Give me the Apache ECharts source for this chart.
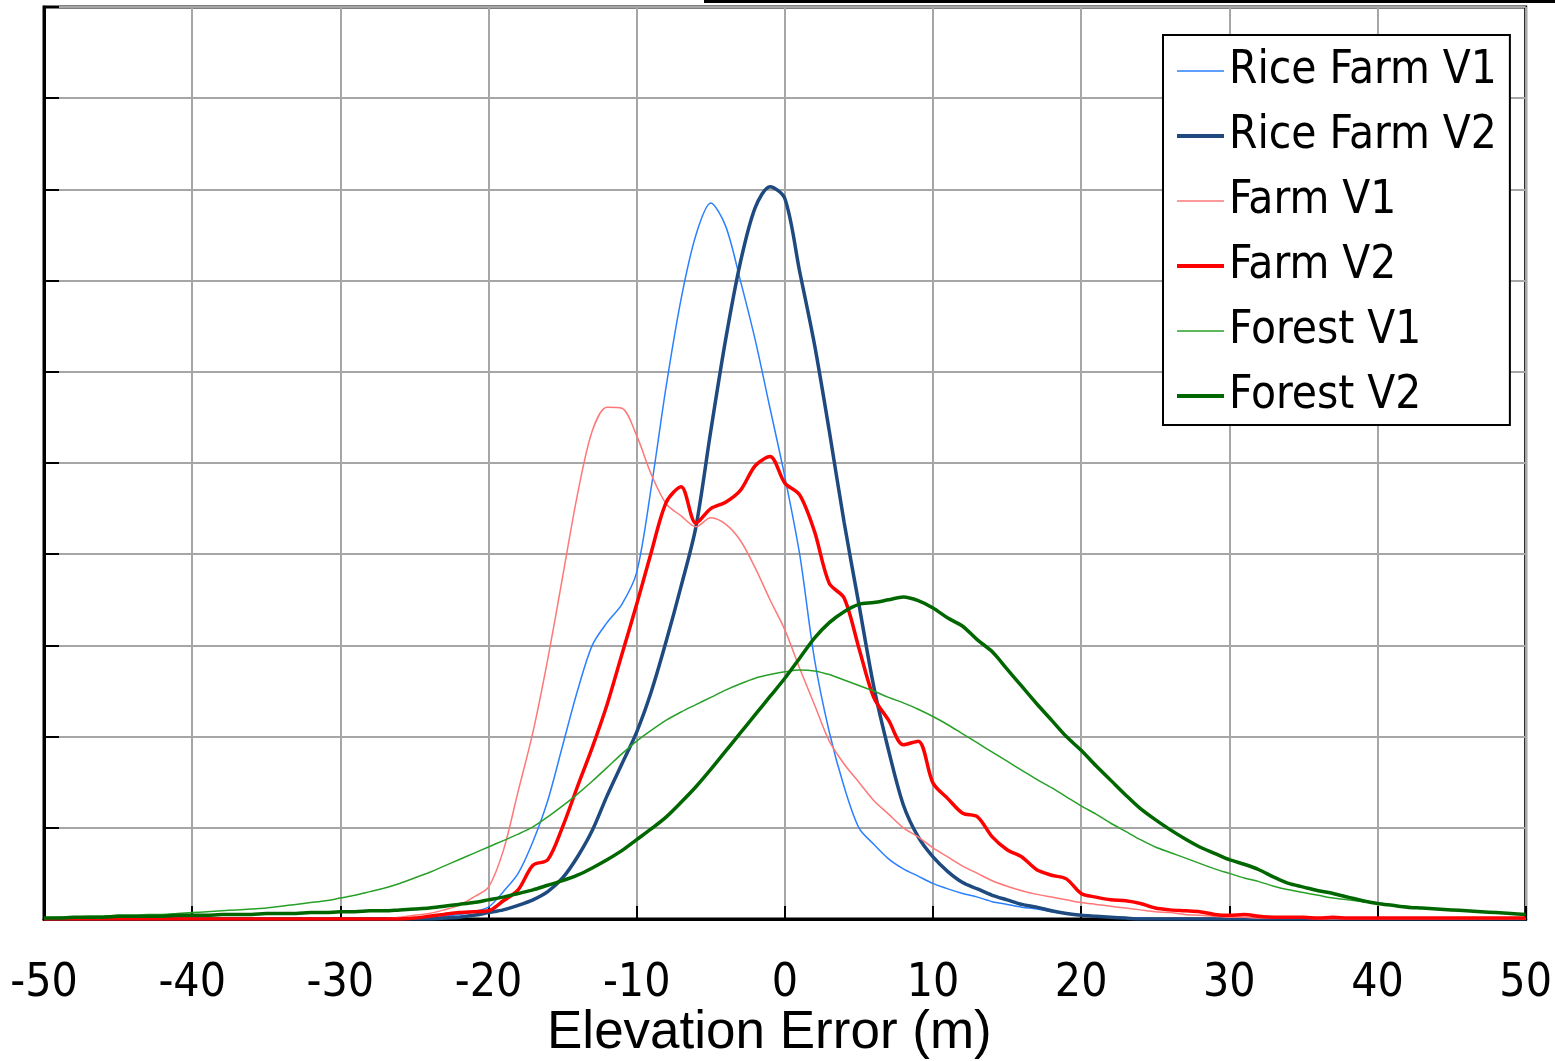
<!DOCTYPE html>
<html>
<head>
    <meta http-equiv="Content-Type" content="text/html; charset=utf-8" />
    <title>Elevation Error</title>
    <script src="https://cdn.jsdelivr.net/npm/echarts@6/dist/echarts.min.js"></script>
</head>
<body style="margin:0;padding:0;background:#fff;">
    <div id="main" style="width:1555px;height:1061px;"></div>
    <script type="text/javascript">
        // x positions (m), one sample per metre
        var xs = [-50,-49,-48,-47,-46,-45,-44,-43,-42,-41,-40,-39,-38,-37,-36,-35,-34,-33,-32,-31,
                  -30,-29,-28,-27,-26,-25,-24,-23,-22,-21,-20,-19,-18,-17,-16,-15,-14,-13,-12,-11,
                  -10,-9,-8,-7,-6,-5,-4,-3,-2,-1,0,1,2,3,4,5,6,7,8,9,
                  10,11,12,13,14,15,16,17,18,19,20,21,22,23,24,25,26,27,28,29,
                  30,31,32,33,34,35,36,37,38,39,40,41,42,43,44,45,46,47,48,49,50];
        var xTicks = [-50,-40,-30,-20,-10,0,10,20,30,40,50];

        // curve heights (read in grid units, 0..10)
        var riceFarmV1 = [0,0,0,0,0,0,0,0,0,0, 0,0,0,0,0,0,0,0,0,0,
                          0,0,0,0,0,0.01,0.01,0.03,0.05,0.08, 0.13,0.3,0.5,0.85,1.3,1.9,2.5,3.0,3.25,3.45,
                          3.8,4.75,5.85,6.8,7.5,7.85,7.6,7.0,6.35,5.6, 4.85,4.0,2.85,2.05,1.45,1.0,0.82,0.66,0.55,0.47,
                          0.39,0.33,0.28,0.24,0.19,0.16,0.13,0.11,0.08,0.06, 0.04,0.03,0.02,0.01,0.01,0,0,0,0,0,
                          0,0,0,0,0,0,0,0,0,0, 0,0,0,0,0,0,0,0,0,0,0];
        var riceFarmV2 = [0,0,0,0,0,0,0,0,0,0, 0,0,0,0,0,0,0,0,0,0,
                          0,0,0,0,0,0,0,0.01,0.02,0.04, 0.07,0.1,0.15,0.21,0.3,0.45,0.68,0.97,1.35,1.7,
                          2.05,2.5,3.05,3.65,4.3,5.35,6.35,7.2,7.8,8.03, 7.9,7.1,6.3,5.35,4.35,3.45,2.55,1.85,1.25,0.9,
                          0.68,0.52,0.4,0.33,0.26,0.21,0.16,0.13,0.09,0.06, 0.04,0.03,0.02,0.01,0,0,0,0,0,0,
                          0,0,0,0,0,0,0,0,0,0, 0,0,0,0,0,0,0,0,0,0,0];
        var farmV1 = [0,0,0,0,0,0,0,0,0,0, 0,0,0,0,0,0,0,0,0,0,
                      0,0,0,0,0.02,0.04,0.06,0.1,0.15,0.24, 0.35,0.75,1.4,2.05,2.85,3.75,4.65,5.35,5.61,5.6,
                      5.3,4.87,4.55,4.42,4.3,4.4,4.33,4.15,3.85,3.5, 3.17,2.75,2.35,1.95,1.7,1.5,1.3,1.15,1.0,0.9,
                      0.78,0.68,0.58,0.5,0.42,0.36,0.31,0.27,0.24,0.21, 0.18,0.16,0.14,0.12,0.1,0.08,0.07,0.05,0.04,0.03,
                      0.02,0.02,0.01,0.01,0.01,0.01,0,0,0,0, 0,0,0,0,0,0,0,0,0,0,0];
        var farmV2 = [0,0,0,0,0,0,0,0,0,0, 0,0,0,0,0,0,0,0,0,0,
                      0,0,0,0,0,0.01,0.03,0.05,0.07,0.08, 0.09,0.2,0.32,0.59,0.65,1.01,1.45,1.88,2.35,2.9,
                      3.45,4.03,4.57,4.74,4.34,4.5,4.57,4.7,4.97,5.07, 4.78,4.65,4.25,3.68,3.52,2.97,2.43,2.18,1.91,1.95,
                      1.49,1.32,1.16,1.12,0.9,0.76,0.68,0.54,0.48,0.44, 0.28,0.24,0.21,0.2,0.17,0.12,0.1,0.09,0.08,0.05,
                      0.04,0.05,0.03,0.02,0.02,0.02,0.01,0.02,0.01,0.01, 0.01,0.01,0.01,0.01,0.01,0.01,0.01,0.01,0.01,0.01,0.01];
        var forestV1 = [0.01,0.02,0.02,0.03,0.03,0.04,0.04,0.05,0.05,0.06, 0.07,0.08,0.09,0.1,0.11,0.12,0.14,0.16,0.18,0.2,
                        0.23,0.26,0.3,0.34,0.39,0.45,0.51,0.58,0.65,0.72, 0.79,0.86,0.93,1.01,1.12,1.24,1.37,1.51,1.66,1.81,
                        1.95,2.07,2.18,2.27,2.35,2.43,2.51,2.58,2.64,2.68, 2.71,2.73,2.72,2.68,2.62,2.56,2.5,2.43,2.37,2.3,
                        2.22,2.13,2.03,1.93,1.83,1.73,1.63,1.53,1.44,1.34, 1.24,1.15,1.05,0.96,0.87,0.79,0.73,0.67,0.61,0.55,
                        0.5,0.45,0.41,0.36,0.32,0.29,0.26,0.23,0.21,0.19, 0.17,0.15,0.14,0.12,0.11,0.1,0.09,0.08,0.07,0.06,0.05];
        var forestV2 = [0.01,0.01,0.02,0.02,0.02,0.03,0.03,0.03,0.03,0.04, 0.04,0.04,0.05,0.05,0.05,0.06,0.06,0.06,0.07,0.07,
                        0.08,0.08,0.09,0.09,0.1,0.11,0.12,0.14,0.16,0.18, 0.21,0.24,0.28,0.32,0.37,0.42,0.48,0.56,0.65,0.75,
                        0.87,0.99,1.12,1.28,1.45,1.64,1.84,2.04,2.24,2.44, 2.64,2.86,3.08,3.25,3.37,3.45,3.47,3.5,3.53,3.49,
                        3.41,3.3,3.21,3.06,2.93,2.74,2.55,2.36,2.18,2.0, 1.85,1.68,1.52,1.36,1.21,1.09,0.98,0.88,0.79,0.72,
                        0.65,0.6,0.54,0.46,0.39,0.35,0.31,0.28,0.24,0.2, 0.17,0.15,0.13,0.12,0.11,0.1,0.09,0.08,0.07,0.06,0.05];

        var seriesNames = ['Rice Farm V1', 'Rice Farm V2', 'Farm V1', 'Farm V2', 'Forest V1', 'Forest V2'];
        var seriesValues = [riceFarmV1, riceFarmV2, farmV1, farmV2, forestV1, forestV2];
        var seriesColors = ['#2a80ff', '#1f4a80', '#ff7878', '#ff0000', '#28a028', '#006600'];
        var seriesWidths = [1.5, 3.5, 1.5, 3.5, 1.5, 3.5];

        var labelFont = "'DejaVu Sans Condensed', 'Liberation Sans Narrow', 'DejaVu Sans', sans-serif";

        function pairs(ys) {
            var out = [];
            for (var i = 0; i < xs.length; i++) out.push([xs[i], ys[i]]);
            return out;
        }

        var series = [];
        var legendData = [];
        for (var s = 0; s < seriesNames.length; s++) {
            series.push({
                name: seriesNames[s],
                type: 'line',
                data: pairs(seriesValues[s]),
                symbol: 'none',
                smooth: 0.3,
                silent: true,
                animation: false,
                lineStyle: { color: seriesColors[s], width: seriesWidths[s] },
                itemStyle: { color: seriesColors[s] }
            });
            legendData.push({
                name: seriesNames[s],
                lineStyle: { color: seriesColors[s], width: seriesWidths[s] > 2 ? 4 : 1.5 }
            });
        }

        var chart = echarts.init(document.getElementById('main'));
        var option = {
            backgroundColor: '#ffffff',
            animation: false,
            grid: {
                left: 44, right: 28, top: 7, bottom: 142,
                show: true,
                borderColor: '#000000',
                borderWidth: 3,
                backgroundColor: 'transparent'
            },
            xAxis: {
                type: 'value',
                min: -50, max: 50, interval: 10,
                axisLine: { show: true, onZero: false, lineStyle: { color: '#000', width: 3 } },
                axisTick: { show: true, inside: true, length: 13, lineStyle: { color: '#000', width: 2 } },
                axisLabel: {
                    show: true, margin: 42,
                    fontFamily: labelFont, fontSize: 46, color: '#000', lineHeight: 46,
                    formatter: function (v) { return xTicks.indexOf(v) >= 0 ? String(v) : ''; }
                },
                splitLine: { show: true, lineStyle: { color: '#a6a6a6', width: 2 } }
            },
            yAxis: {
                type: 'value',
                min: 0, max: 10, interval: 1,
                axisLine: { show: true, onZero: false, lineStyle: { color: '#000', width: 3 } },
                axisTick: { show: true, inside: true, length: 15, lineStyle: { color: '#000', width: 2 } },
                axisLabel: { show: false },
                splitLine: { show: true, lineStyle: { color: '#a6a6a6', width: 2 } }
            },
            legend: {
                data: legendData,
                orient: 'vertical',
                left: 1163, top: 35,
                padding: [13, 13, 6, 12],
                itemWidth: 47, itemHeight: 14, itemGap: 19,
                backgroundColor: '#ffffff',
                borderColor: '#000000', borderWidth: 2, borderRadius: 0,
                selectedMode: false,
                itemStyle: { opacity: 0, borderWidth: 0 },
                textStyle: { fontFamily: labelFont, fontSize: 45.5, lineHeight: 44, color: '#000' }
            },
            graphic: [
                { type: 'rect', shape: { x: 704, y: 0, width: 851, height: 3 }, style: { fill: '#000' } },
                {
                    type: 'text', left: 547, top: 1007,
                    style: { text: 'Elevation Error (m)', fontFamily: "'Liberation Sans', Arial, sans-serif", fontSize: 53, fill: '#000' }
                }
            ],
            series: series
        };
        chart.setOption(option);
    </script>
</body>
</html>
